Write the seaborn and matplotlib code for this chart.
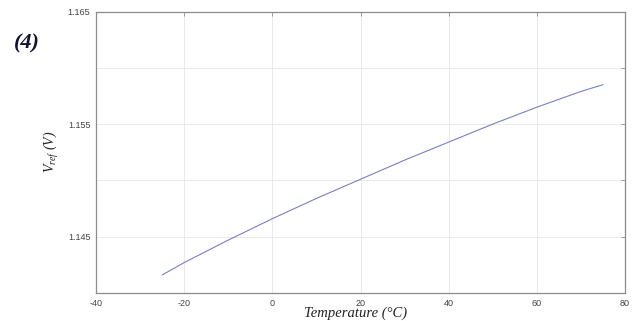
import matplotlib
matplotlib.use("Agg")
import matplotlib.pyplot as plt
import seaborn as sns
import pandas as pd

temperature = [-25, -20, -10, 0, 10, 20, 30, 40, 50, 60, 70, 75]
vref = [1.1416, 1.1427, 1.1447, 1.1466, 1.1484, 1.1501, 1.1518, 1.1534, 1.1550, 1.1565, 1.1579, 1.1585]
xticks = [-40, -20, 0, 20, 40, 60, 80]
yticks = [1.140, 1.145, 1.150, 1.155, 1.160, 1.165]
ytick_labels = ["", "1.145", "", "1.155", "", "1.165"]

df = pd.DataFrame({"T": temperature, "V": vref})

sns.set_style("white")
plt.rcParams["font.family"] = ["Liberation Sans", "DejaVu Sans"]
plt.rcParams["mathtext.fontset"] = "custom"
plt.rcParams["mathtext.it"] = "Liberation Serif:italic"
plt.rcParams["mathtext.rm"] = "Liberation Serif"

fig = plt.figure(figsize=(6.33, 3.21), dpi=100)
ax = fig.add_axes([96/633, 1-293/321, (625-96)/633, (293-11.5)/321])

sns.lineplot(data=df, x="T", y="V", ax=ax, color="#7b7fc4", linewidth=0.8)

ax.set_xlim(-40, 80)
ax.set_ylim(1.140, 1.165)
ax.set_xticks(xticks)
ax.set_xticklabels([str(t) for t in xticks])
ax.set_yticks(yticks)
ax.set_yticklabels(ytick_labels)
ax.grid(True, color="#e6e6e6", linewidth=0.6)
for s in ax.spines.values():
    s.set_color("#8c8c8c")
    s.set_linewidth(0.9)
ax.tick_params(direction="in", length=3, width=0.6, color="#8c8c8c",
               labelsize=6.5, labelcolor="#444444", top=True, right=True, pad=4)

ax.set_xlabel("Temperature (°C)", fontfamily="Liberation Serif", fontstyle="italic",
              fontsize=10.5, color="#222222")
ax.xaxis.set_label_coords((356-96)/529, -(313-293)/281.5)
ax.set_ylabel(r"$V_{ref}$ (V)", fontfamily="Liberation Serif", fontstyle="italic",
              fontsize=10, color="#222222")
ax.yaxis.set_label_coords((51-96)/529, 0.5)
ax.yaxis.label.set_va("center")
ax.xaxis.label.set_va("center")

fig.text(27/633, 1-43/321, "(4)", fontfamily="Liberation Serif", fontstyle="italic",
         fontweight="bold", fontsize=16, color="#111133", ha="center", va="center")

fig.savefig("out.png", dpi=100)
